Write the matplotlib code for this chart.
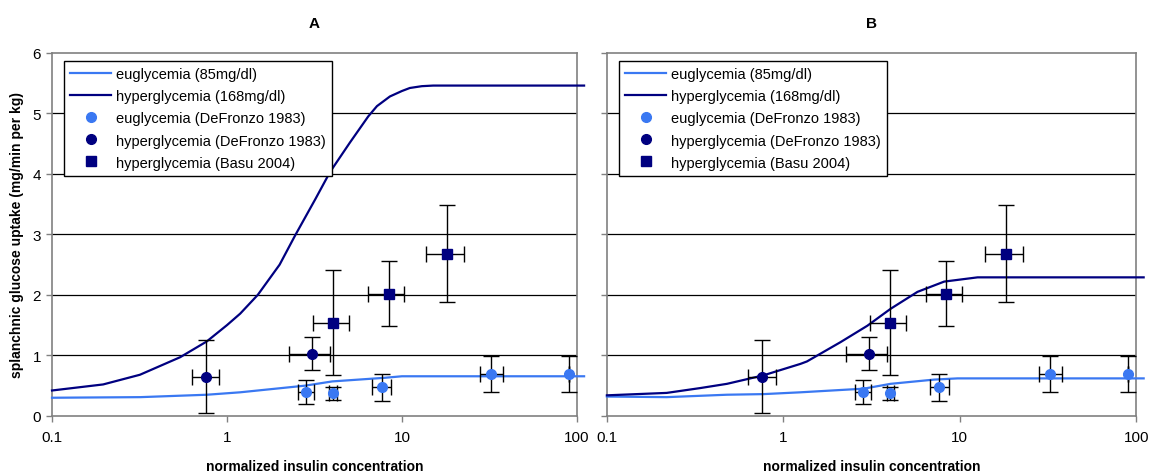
import matplotlib
matplotlib.use("Agg")
import matplotlib.pyplot as plt
from matplotlib.ticker import FixedLocator, FixedFormatter
from matplotlib.lines import Line2D

plt.rcParams['font.family'] = ['Liberation Sans', 'DejaVu Sans']

# ---------------- data ----------------
# model curves, panel A
a_eu_x = [0.1, 0.32, 0.77, 1.19, 2.8, 4.0, 8.0, 10.0, 20.0, 50.0, 110.0]
a_eu_y = [0.30, 0.31, 0.35, 0.39, 0.50, 0.57, 0.63, 0.655, 0.655, 0.655, 0.655]
a_hy_x = [0.1, 0.196, 0.318, 0.54, 0.766, 1.0, 1.19, 1.5, 2.0, 2.45, 3.21, 3.88, 5.05, 6.42,
          7.2, 8.54, 10.0, 11.1, 13.0, 15.1, 30.0, 110.0]
a_hy_y = [0.42, 0.52, 0.68, 0.97, 1.23, 1.50, 1.69, 2.00, 2.50, 2.98, 3.59, 4.03, 4.52, 4.95,
          5.12, 5.28, 5.37, 5.42, 5.45, 5.46, 5.46, 5.46]

# model curves, panel B
b_eu_x = [0.1, 0.218, 0.479, 0.77, 1.25, 2.85, 4.05, 7.15, 9.7, 20.0, 110.0]
b_eu_y = [0.32, 0.31, 0.35, 0.36, 0.39, 0.45, 0.53, 0.60, 0.62, 0.62, 0.62]
b_hy_x = [0.1, 0.218, 0.338, 0.479, 0.77, 1.25, 1.36, 2.11, 2.99, 4.05, 5.75, 8.15, 12.6, 20.0, 110.0]
b_hy_y = [0.34, 0.38, 0.46, 0.53, 0.67, 0.86, 0.90, 1.22, 1.49, 1.77, 2.05, 2.22, 2.29, 2.29, 2.29]

# euglycemia (DeFronzo 1983)
eu_x = [2.83, 4.03, 7.65, 32.3, 90.0]
eu_y = [0.39, 0.375, 0.47, 0.69, 0.69]
eu_xlo = [2.54, 3.85, 6.77, 28.0, 90.0]
eu_xhi = [3.15, 4.25, 8.65, 37.8, 90.0]
eu_yerr = [0.20, 0.11, 0.22, 0.30, 0.30]

# hyperglycemia (DeFronzo 1983)
hd_x = [0.76, 3.05]
hd_y = [0.65, 1.03]
hd_xlo = [0.634, 2.27]
hd_xhi = [0.904, 3.89]
hd_yerr = [0.60, 0.27]

# hyperglycemia (Basu 2004)
hb_x = [4.03, 8.39, 18.2]
hb_y = [1.54, 2.02, 2.68]
hb_xlo = [3.09, 6.42, 13.8]
hb_xhi = [4.98, 10.3, 22.7]
hb_yerr = [0.87, 0.54, 0.80]

x_ticks = [0.1, 1, 10, 100]
x_ticklabels = ['0.1', '1', '10', '100']
y_ticks = [0, 1, 2, 3, 4, 5, 6]
panel_titles = ['A', 'B']
legend_labels = ['euglycemia (85mg/dl)', 'hyperglycemia (168mg/dl)',
                 'euglycemia (DeFronzo 1983)', 'hyperglycemia (DeFronzo 1983)',
                 'hyperglycemia (Basu 2004)']

LIGHT = '#3a78f2'
NAVY = '#000080'
GRAY = '#808080'

fig = plt.figure(figsize=(11.56, 4.77), dpi=100)
axA = fig.add_axes([0.045, 0.126, 0.454, 0.761])
axB = fig.add_axes([0.525, 0.126, 0.458, 0.761])

curves = [(a_eu_x, a_eu_y, a_hy_x, a_hy_y), (b_eu_x, b_eu_y, b_hy_x, b_hy_y)]


def xerr(x, lo, hi):
    return [[xi - l for xi, l in zip(x, lo)], [h - xi for xi, h in zip(x, hi)]]


for i, ax in enumerate([axA, axB]):
    ex, ey, hx, hy = curves[i]
    ax.set_xscale('log')
    ax.set_xlim(0.1, 100)
    ax.set_ylim(0, 6)
    for g in [1, 2, 3, 4, 5]:
        ax.axhline(g, color='black', lw=0.9, zorder=1)
    ax.plot(ex, ey, color=LIGHT, lw=1.6, clip_on=False, zorder=3)
    ax.plot(hx, hy, color=NAVY, lw=1.6, clip_on=False, zorder=3)
    ekw = dict(ecolor='black', elinewidth=1.0, capsize=5.5, capthick=1.0, zorder=4)
    ax.errorbar(eu_x, eu_y, yerr=eu_yerr, xerr=xerr(eu_x, eu_xlo, eu_xhi), fmt='o',
                color=LIGHT, ms=7, mec=LIGHT, **ekw)
    ax.errorbar(hd_x, hd_y, yerr=hd_yerr, xerr=xerr(hd_x, hd_xlo, hd_xhi), fmt='o',
                color=NAVY, ms=7, mec=NAVY, **ekw)
    ax.errorbar(hb_x, hb_y, yerr=hb_yerr, xerr=xerr(hb_x, hb_xlo, hb_xhi), fmt='s',
                color=NAVY, ms=7, mec=NAVY, **ekw)

    ax.xaxis.set_major_locator(FixedLocator(x_ticks))
    ax.xaxis.set_major_formatter(FixedFormatter(x_ticklabels))
    ax.xaxis.set_minor_locator(FixedLocator([]))
    ax.set_yticks(y_ticks)
    for s in ax.spines.values():
        s.set_color(GRAY)
        s.set_linewidth(1.2)
    ax.tick_params(axis='x', direction='out', length=4, width=1, color=GRAY, labelsize=11, pad=6)
    ax.tick_params(axis='y', direction='out', length=4, width=1, color=GRAY, labelsize=11, pad=4)
    if i == 1:
        ax.tick_params(axis='y', labelleft=False)
    ax.set_xlabel('normalized insulin concentration', fontsize=10, fontweight='bold', labelpad=11)
    ax.set_title(panel_titles[i], fontsize=11, fontweight='bold', pad=19)

    hnd = [
        Line2D([], [], color=LIGHT, lw=1.6),
        Line2D([], [], color=NAVY, lw=1.6),
        Line2D([], [], ls='none', marker='o', color=LIGHT, ms=7),
        Line2D([], [], ls='none', marker='o', color=NAVY, ms=7),
        Line2D([], [], ls='none', marker='s', color=NAVY, ms=7),
    ]
    leg = ax.legend(hnd, legend_labels, loc='upper left', bbox_to_anchor=(0.022, 0.978),
                    fontsize=10.5, frameon=True, fancybox=False, framealpha=1,
                    edgecolor='black', handlelength=2.8, handletextpad=0.35,
                    labelspacing=0.55, borderpad=0.45, borderaxespad=0.0)
    leg.get_frame().set_linewidth(1.0)
    leg.set_zorder(10)

axA.set_ylabel('splanchnic glucose uptake (mg/min per kg)', fontsize=10, fontweight='bold', labelpad=6)

fig.savefig('out.png', dpi=100)
